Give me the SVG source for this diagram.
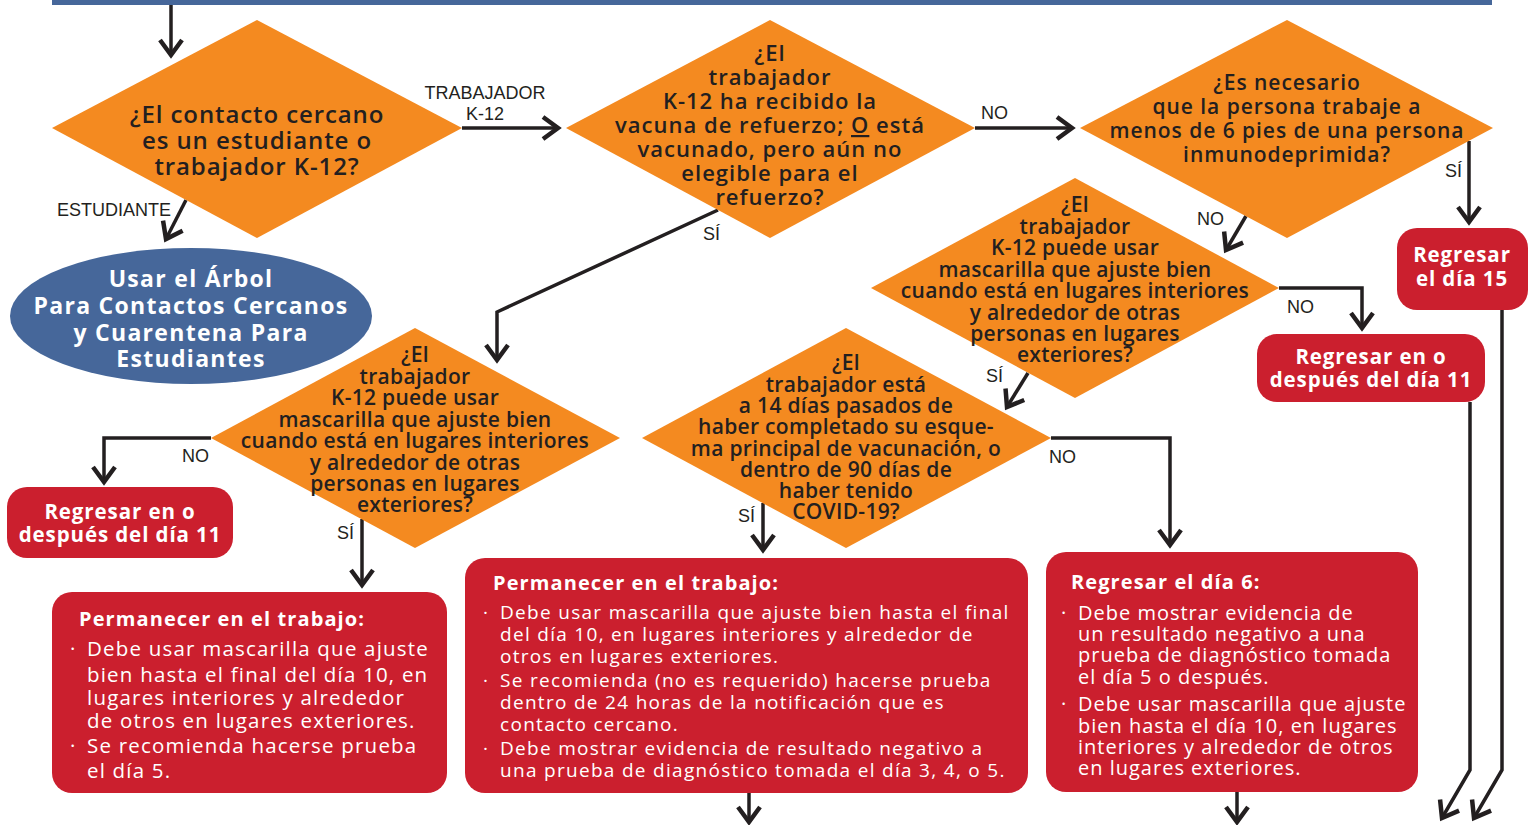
<svg xmlns="http://www.w3.org/2000/svg" width="1538" height="825" viewBox="0 0 1538 825">
<defs>
<marker id="ah" markerUnits="userSpaceOnUse" viewBox="-22 -15 26 30" refX="0" refY="0" markerWidth="26" markerHeight="30" orient="auto">
<path d="M-15,-11 L0,0 L-15,11" fill="none" stroke="#231f20" stroke-width="4.5" stroke-linejoin="miter"/>
</marker>
<style>
.dia{fill:#f48a20}
.red{fill:#cb1f2e}
.blue{fill:#46679a}
.con{fill:none;stroke:#231f20;stroke-width:3.5;marker-end:url(#ah)}
.qa{font-family:"Open Sans","Liberation Sans",sans-serif;font-weight:600;fill:#231f20;text-anchor:middle}
.qb{font-family:"Open Sans","Liberation Sans",sans-serif;font-weight:600;fill:#231f20;text-anchor:middle;font-size:21px;letter-spacing:0.3px}
.lbl{font-family:"Liberation Sans",Arial,sans-serif;font-size:18px;fill:#231f20}
.wt{font-family:"Open Sans","Liberation Sans",sans-serif;font-weight:700;fill:#fff;text-anchor:middle;font-size:20.5px;letter-spacing:0.9px}
.tt{font-family:"Open Sans","Liberation Sans",sans-serif;font-weight:700;fill:#fff;font-size:20px;letter-spacing:1.1px}
.bd{font-family:"Open Sans","Liberation Sans",sans-serif;font-weight:400;fill:#fff}
</style>
</defs>
<rect x="52" y="0" width="1440" height="5" class="blue"/>
<g id="connectors">
<path class="con" d="M171,5 L171,55"/>
<path class="con" d="M186,200 L166,239"/>
<path class="con" d="M462,128 L558,128"/>
<path class="con" d="M975,128 L1072,128"/>
<path class="con" d="M1469,141 L1469,222"/>
<path class="con" d="M1246,216 L1226,250"/>
<path class="con" d="M718,210 L497,312 L497,360"/>
<path class="con" d="M1279,288 L1362,288 L1362,328"/>
<path class="con" d="M1028,373 L1007,407"/>
<path class="con" d="M211,438 L104,438 L104,482"/>
<path class="con" d="M362,519 L362,585"/>
<path class="con" d="M763,503 L763,550"/>
<path class="con" d="M1051,438 L1170,438 L1170,545"/>
<path class="con" d="M749,793 L749,822"/>
<path class="con" d="M1237,792 L1237,822"/>
<path class="con" d="M1470,402 L1470,770 L1442,818"/>
<path class="con" d="M1502,310 L1502,770 L1474,818"/>
</g>
<g id="labels">
<text class="lbl" x="485" y="99" text-anchor="middle">TRABAJADOR</text>
<text class="lbl" x="485" y="120" text-anchor="middle">K-12</text>
<text class="lbl" x="57" y="216">ESTUDIANTE</text>
<text class="lbl" x="981" y="119">NO</text>
<text class="lbl" x="1445" y="177">SÍ</text>
<text class="lbl" x="1197" y="225">NO</text>
<text class="lbl" x="703" y="240">SÍ</text>
<text class="lbl" x="1287" y="313">NO</text>
<text class="lbl" x="986" y="382">SÍ</text>
<text class="lbl" x="182" y="462">NO</text>
<text class="lbl" x="337" y="539">SÍ</text>
<text class="lbl" x="738" y="522">SÍ</text>
<text class="lbl" x="1049" y="463">NO</text>
</g>
<g id="d1">
<polygon class="dia" points="257,20 462,128 257,238 52,128"/>
<text class="qa" font-size="24" letter-spacing="0.9"><tspan x="257" y="123">¿El contacto cercano</tspan><tspan x="257" y="149">es un estudiante o</tspan><tspan x="257" y="175">trabajador K-12?</tspan></text>
</g>
<g id="d2">
<polygon class="dia" points="770,20 975,128 770,238 566,128"/>
<text class="qa" font-size="22" letter-spacing="1"><tspan x="770" y="61">¿El</tspan><tspan x="770" y="85">trabajador</tspan><tspan x="770" y="109">K-12 ha recibido la</tspan><tspan x="770" y="133">vacuna de refuerzo; <tspan text-decoration="underline">O</tspan> está</tspan><tspan x="770" y="157">vacunado, pero aún no</tspan><tspan x="770" y="181">elegible para el</tspan><tspan x="770" y="205">refuerzo?</tspan></text>
</g>
<g id="d3">
<polygon class="dia" points="1287,20 1493,128 1287,238 1080,128"/>
<text class="qa" font-size="21" letter-spacing="0.95"><tspan x="1287" y="90">¿Es necesario</tspan><tspan x="1287" y="114">que la persona trabaje a</tspan><tspan x="1287" y="138">menos de 6 pies de una persona</tspan><tspan x="1287" y="162">inmunodeprimida?</tspan></text>
</g>
<g id="d4">
<polygon class="dia" points="1075,178 1279,288 1075,398 871,288"/>
<text class="qb"><tspan x="1075" y="212">¿El</tspan><tspan x="1075" y="233.5">trabajador</tspan><tspan x="1075" y="255">K-12 puede usar</tspan><tspan x="1075" y="276.5">mascarilla que ajuste bien</tspan><tspan x="1075" y="298">cuando está en lugares interiores</tspan><tspan x="1075" y="319.5">y alrededor de otras</tspan><tspan x="1075" y="341">personas en lugares</tspan><tspan x="1075" y="362">exteriores?</tspan></text>
</g>
<g id="d5">
<polygon class="dia" points="846,328 1051,438 846,548 642,438"/>
<text class="qb"><tspan x="846" y="370">¿El</tspan><tspan x="846" y="391.5">trabajador está</tspan><tspan x="846" y="413">a 14 días pasados de</tspan><tspan x="846" y="434">haber completado su esque-</tspan><tspan x="846" y="455.5">ma principal de vacunación, o</tspan><tspan x="846" y="477">dentro de 90 días de</tspan><tspan x="846" y="498">haber tenido</tspan><tspan x="846" y="519">COVID-19?</tspan></text>
</g>
<g id="d6">
<polygon class="dia" points="415,328 620,438 415,548 211,438"/>
<text class="qb"><tspan x="415" y="362">¿El</tspan><tspan x="415" y="383.5">trabajador</tspan><tspan x="415" y="405">K-12 puede usar</tspan><tspan x="415" y="426.5">mascarilla que ajuste bien</tspan><tspan x="415" y="448">cuando está en lugares interiores</tspan><tspan x="415" y="469.5">y alrededor de otras</tspan><tspan x="415" y="491">personas en lugares</tspan><tspan x="415" y="512">exteriores?</tspan></text>
</g>
<g id="students">
<ellipse class="blue" cx="191" cy="316" rx="181" ry="68"/>
<text class="wt" style="font-size:23px;letter-spacing:1.3px"><tspan x="191" y="287">Usar el Árbol</tspan><tspan x="191" y="314">Para Contactos Cercanos</tspan><tspan x="191" y="341">y Cuarentena Para</tspan><tspan x="191" y="367">Estudiantes</tspan></text>
</g>
<g id="day15">
<rect class="red" x="1397" y="228" width="131" height="82" rx="20"/>
<text class="wt"><tspan x="1462" y="262">Regresar</tspan><tspan x="1462" y="286">el día 15</tspan></text>
</g>
<g id="day11right">
<rect class="red" x="1257" y="334" width="228" height="68" rx="20"/>
<text class="wt"><tspan x="1371" y="364">Regresar en o</tspan><tspan x="1371" y="387">después del día 11</tspan></text>
</g>
<g id="day11left">
<rect class="red" x="7" y="487" width="226" height="71" rx="20"/>
<text class="wt"><tspan x="120" y="519">Regresar en o</tspan><tspan x="120" y="542">después del día 11</tspan></text>
</g>
<g id="stay1">
<rect class="red" x="52" y="592" width="395" height="201" rx="20"/>
<text class="tt" x="79" y="626">Permanecer en el trabajo:</text>
<text class="bd" font-size="20.5" letter-spacing="1.2"><tspan x="70" y="656">·</tspan><tspan x="87" y="656">Debe usar mascarilla que ajuste</tspan><tspan x="87" y="682">bien hasta el final del día 10, en</tspan><tspan x="87" y="705">lugares interiores y alrededor</tspan><tspan x="87" y="728">de otros en lugares exteriores.</tspan><tspan x="70" y="753">·</tspan><tspan x="87" y="753">Se recomienda hacerse prueba</tspan><tspan x="87" y="778">el día 5.</tspan></text>
</g>
<g id="stay2">
<rect class="red" x="465" y="558" width="563" height="235" rx="20"/>
<text class="tt" x="493" y="590">Permanecer en el trabajo:</text>
<text class="bd" font-size="19" letter-spacing="1.3"><tspan x="483" y="619">·</tspan><tspan x="500" y="619">Debe usar mascarilla que ajuste bien hasta el final</tspan><tspan x="500" y="641">del día 10, en lugares interiores y alrededor de</tspan><tspan x="500" y="663">otros en lugares exteriores.</tspan><tspan x="483" y="687">·</tspan><tspan x="500" y="687">Se recomienda (no es requerido) hacerse prueba</tspan><tspan x="500" y="709">dentro de 24 horas de la notificación que es</tspan><tspan x="500" y="731">contacto cercano.</tspan><tspan x="483" y="755">·</tspan><tspan x="500" y="755">Debe mostrar evidencia de resultado negativo a</tspan><tspan x="500" y="777">una prueba de diagnóstico tomada el día 3, 4, o 5.</tspan></text>
</g>
<g id="day6">
<rect class="red" x="1046" y="552" width="372" height="240" rx="20"/>
<text class="tt" x="1071" y="589">Regresar el día 6:</text>
<text class="bd" font-size="20" letter-spacing="1"><tspan x="1061" y="620">·</tspan><tspan x="1078" y="620">Debe mostrar evidencia de</tspan><tspan x="1078" y="641">un resultado negativo a una</tspan><tspan x="1078" y="662">prueba de diagnóstico tomada</tspan><tspan x="1078" y="684">el día 5 o después.</tspan><tspan x="1061" y="711">·</tspan><tspan x="1078" y="711">Debe usar mascarilla que ajuste</tspan><tspan x="1078" y="733">bien hasta el día 10, en lugares</tspan><tspan x="1078" y="754">interiores y alrededor de otros</tspan><tspan x="1078" y="775">en lugares exteriores.</tspan></text>
</g>
</svg>
